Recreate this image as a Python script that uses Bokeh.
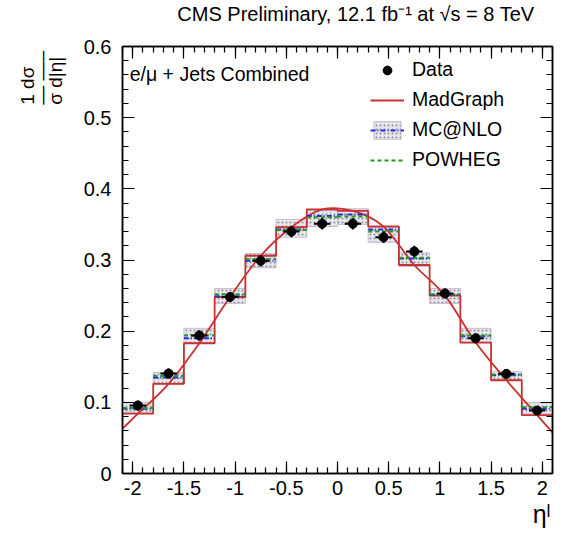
import numpy as np
from bokeh.plotting import figure
from bokeh.models import (Range1d, LinearAxis, FixedTicker, NumeralTickFormatter,
                          Label, Legend, LegendItem, Title)
from bokeh.embed import file_html
from bokeh.resources import INLINE

# ---------------- data ----------------
bin_edges = [-2.1, -1.8, -1.5, -1.2, -0.9, -0.6, -0.3, 0.0, 0.3, 0.6, 0.9, 1.2, 1.5, 1.8, 2.1]
data_vals = [0.0955, 0.1405, 0.194, 0.248, 0.299, 0.340, 0.351, 0.351, 0.332, 0.312, 0.253, 0.190, 0.140, 0.0885]
data_err = [0.007, 0.007, 0.007, 0.007, 0.008, 0.008, 0.008, 0.008, 0.008, 0.008, 0.007, 0.007, 0.006, 0.006]
data_xerr = [0.08] * 14
madgraph = [0.084, 0.126, 0.183, 0.248, 0.306, 0.346, 0.371, 0.369, 0.347, 0.293, 0.250, 0.184, 0.131, 0.082]
mcnlo = [0.091, 0.135, 0.190, 0.249, 0.299, 0.343, 0.362, 0.364, 0.343, 0.302, 0.251, 0.193, 0.138, 0.091]
mcnlo_lo = [0.086, 0.126, 0.183, 0.239, 0.289, 0.332, 0.347, 0.350, 0.325, 0.291, 0.239, 0.184, 0.131, 0.084]
mcnlo_hi = [0.100, 0.142, 0.204, 0.260, 0.309, 0.357, 0.370, 0.372, 0.348, 0.310, 0.260, 0.204, 0.143, 0.100]
powheg = [0.092, 0.137, 0.194, 0.252, 0.301, 0.342, 0.360, 0.361, 0.340, 0.303, 0.252, 0.194, 0.139, 0.093]
x_ticks = [-2, -1.5, -1, -0.5, 0, 0.5, 1, 1.5, 2]
y_ticks = [0, 0.1, 0.2, 0.3, 0.4, 0.5, 0.6]

edges = np.array(bin_edges)
lefts = edges[:-1]
rights = edges[1:]
centers = 0.5 * (lefts + rights)

FONT = "Liberation Sans"

p = figure(width=563, height=536, x_range=Range1d(-2.1, 2.1), y_range=Range1d(0, 0.6),
           output_backend="svg", toolbar_location=None,
           min_border_left=122, min_border_right=11, min_border_top=46, min_border_bottom=63)
p.grid.visible = False
p.outline_line_color = "black"
p.outline_line_width = 1.5
p.background_fill_color = "white"
p.border_fill_color = "white"

x_minor = list(np.round(np.arange(-2.1, 2.1001, 0.1), 3))
y_minor = list(np.round(np.arange(0, 0.6001, 0.02), 3))

def style_axis(ax, ticks, minor, show_labels):
    ax.ticker = FixedTicker(ticks=ticks, minor_ticks=minor)
    ax.formatter = NumeralTickFormatter(format="0.[0]")
    ax.major_tick_in = 12
    ax.major_tick_out = 0
    ax.minor_tick_in = 6
    ax.minor_tick_out = 0
    ax.major_tick_line_width = 1.2
    ax.minor_tick_line_width = 1.2
    ax.axis_line_width = 1.5
    ax.major_tick_line_color = "black"
    ax.minor_tick_line_color = "black"
    ax.axis_line_color = "black"
    if show_labels:
        ax.major_label_text_font = FONT
        ax.major_label_text_font_size = "20px"
        ax.major_label_text_color = "black"
    else:
        ax.major_label_text_font_size = "0px"
        ax.major_label_text_color = None
        ax.major_label_standoff = 0

style_axis(p.xaxis[0], x_ticks, x_minor, True)
p.xaxis[0].major_label_standoff = 7
style_axis(p.yaxis[0], y_ticks, y_minor, True)
p.yaxis[0].major_label_standoff = 11

top_ax = LinearAxis()
style_axis(top_ax, x_ticks, x_minor, False)
p.add_layout(top_ax, "above")
right_ax = LinearAxis()
style_axis(right_ax, y_ticks, y_minor, False)
p.add_layout(right_ax, "right")

# MC@NLO band
band = p.quad(left=lefts, right=rights, bottom=mcnlo_lo, top=mcnlo_hi,
              fill_color="#e8e7ec", hatch_pattern="dot", hatch_color="#8c8c98",
              hatch_scale=4, hatch_weight=1.2, line_color="#cdb9d6", line_width=1)

# MadGraph step histogram
mg_step = p.step(x=list(edges), y=madgraph + [madgraph[-1]], mode="after",
                 line_color="#c8312f", line_width=1.8)

# MadGraph smooth curve (Catmull-Rom through bin centres, extended to range edges)
mg = np.array(madgraph)
cx = np.concatenate([[edges[0]], centers, [edges[-1]]])
cy = np.concatenate([[mg[0] - (mg[1] - mg[0]) * 0.5], mg, [mg[-1] - (mg[-2] - mg[-1]) * 0.5]])
px = np.concatenate([[2 * cx[0] - cx[1]], cx, [2 * cx[-1] - cx[-2]]])
py = np.concatenate([[2 * cy[0] - cy[1]], cy, [2 * cy[-1] - cy[-2]]])
x0 = px[1:-2]; y0 = py[1:-2]; x1 = px[2:-1]; y1 = py[2:-1]
c0x = px[1:-2] + (px[2:-1] - px[:-3]) / 6.0
c0y = py[1:-2] + (py[2:-1] - py[:-3]) / 6.0
c1x = px[2:-1] - (px[3:] - px[1:-2]) / 6.0
c1y = py[2:-1] - (py[3:] - py[1:-2]) / 6.0
p.bezier(x0=x0, y0=y0, x1=x1, y1=y1, cx0=c0x, cy0=c0y, cx1=c1x, cy1=c1y,
         line_color="#c8312f", line_width=1.8)

# MC@NLO central (blue dash-dot) and POWHEG (green dashed)
mc_line = p.segment(x0=lefts, y0=mcnlo, x1=rights, y1=mcnlo,
                    line_color="#2a2ae0", line_width=2, line_dash="5 2 1 2")
pw_line = p.segment(x0=lefts, y0=powheg, x1=rights, y1=powheg,
                    line_color="#1f9a1f", line_width=2, line_dash="4 3")

# Data with error bars
dv = np.array(data_vals); de = np.array(data_err); dx = np.array(data_xerr)
p.segment(x0=centers - dx, y0=dv, x1=centers + dx, y1=dv, line_color="black", line_width=2)
p.segment(x0=centers, y0=dv - de, x1=centers, y1=dv + de, line_color="black", line_width=2)
data_pts = p.scatter(x=centers, y=dv, marker="circle", size=9, fill_color="black", line_color="black")

legend = Legend(items=[
    LegendItem(label="Data", renderers=[data_pts]),
    LegendItem(label="MadGraph", renderers=[mg_step]),
    LegendItem(label="MC@NLO", renderers=[band, mc_line]),
    LegendItem(label="POWHEG", renderers=[pw_line]),
], location=(248, 302), border_line_alpha=0, background_fill_alpha=0,
   label_text_font=FONT, label_text_font_size="19.5px", label_text_color="black",
   glyph_width=34, glyph_height=22, label_height=22, spacing=7, padding=0, margin=0,
   label_standoff=8)
p.add_layout(legend)

p.add_layout(Label(x=-2.03, y=0.562, text="e/\u03bc + Jets Combined", text_font=FONT,
                   text_font_size="19.5px", text_baseline="middle", text_color="black"))

# main title (a trailing line break lifts the text away from the frame)
p.title.text = "CMS Preliminary, 12.1 fb\u207b\u00b9 at \u221as = 8 TeV\n"
p.title.align = "right"
p.title.vertical_align = "bottom"
p.title.offset = 18
p.title.standoff = 0
p.title.text_font = FONT
p.title.text_font_size = "20px"
p.title.text_font_style = "normal"
p.title.text_line_height = 1.0
p.title.text_color = "black"

# y-axis label: 1/sigma dsigma/d|eta| as stacked fractions (one rotated 3-line title)
frac_text = "1    d\u03c3 \n\u2014  \u2014\u2013\n\u03c3   d|\u03b7|"
p.add_layout(Title(text=frac_text, align="right", vertical_align="top", offset=-1, standoff=26,
                   text_font=FONT, text_font_size="19px", text_font_style="normal",
                   text_line_height=0.67, text_color="black"), "left")

# x-axis label
p.add_layout(Title(text="\u03b7\u02e1", align="right", offset=2, standoff=0,
                   text_font=FONT, text_font_size="25px", text_font_style="normal",
                   text_color="black"), "below")

open("out.html", "w").write(file_html(p, INLINE))
